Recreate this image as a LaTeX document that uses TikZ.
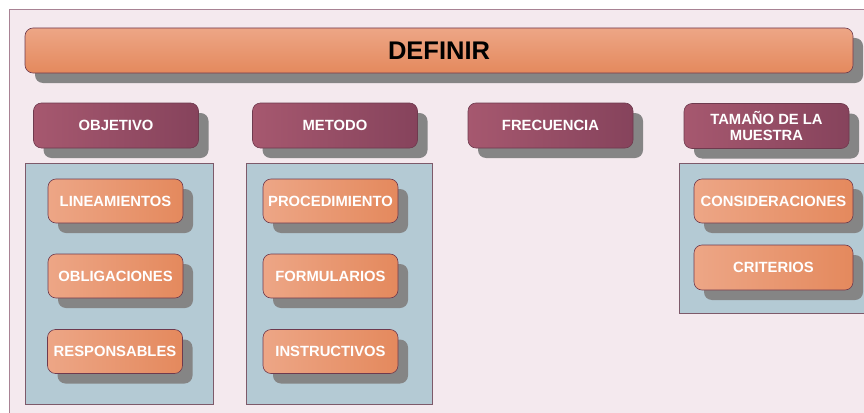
\documentclass[tikz,border=0pt]{standalone}
\usepackage{fontspec}
\setmainfont{Liberation Sans}
\usetikzlibrary{shadows}
\definecolor{bgpink}{HTML}{F4E9EE}
\definecolor{framec}{HTML}{A88294}
\definecolor{panelblue}{HTML}{B4CAD4}
\definecolor{panelline}{HTML}{7D5A6A}
\definecolor{orlight}{HTML}{EDA686}
\definecolor{ordark}{HTML}{E4895D}
\definecolor{purlight}{HTML}{A6586F}
\definecolor{purdark}{HTML}{86435C}
\definecolor{boxline}{HTML}{6E3A4E}
\definecolor{shadowc}{HTML}{858585}
\tikzset{
  shadowed/.style={drop shadow={shadow xshift=10pt, shadow yshift=-10pt, fill=shadowc, opacity=1}},
  titlebox/.style={shadowed, draw=boxline, line width=0.6pt, rounded corners=8pt,
    top color=orlight, bottom color=ordark, minimum width=828pt, minimum height=45pt,
    inner sep=2pt, font=\fontsize{25.5}{28}\selectfont\bfseries, text=black},
  headbox/.style={shadowed, draw=boxline, line width=0.6pt, rounded corners=8pt,
    left color=purlight, right color=purdark, minimum width=165pt, minimum height=45pt,
    inner sep=2pt, align=center, font=\fontsize{14.8}{16.5}\selectfont\bfseries, text=white},
  itembox/.style={shadowed, draw=boxline, line width=0.6pt, rounded corners=8pt,
    left color=orlight, right color=ordark, minimum width=135pt, minimum height=44pt,
    inner sep=2pt, align=center, font=\fontsize{14.8}{16}\selectfont\bfseries, text=white},
  panel/.style={draw=panelline, line width=0.6pt, fill=panelblue, inner sep=0pt}
}
\begin{document}
\begin{tikzpicture}[x=1pt, y=-1pt]
\useasboundingbox (0,0) rectangle (864,412);
\clip (0,0) rectangle (864,412);
\fill[white] (0,0) rectangle (864,412);
\draw[framec, fill=bgpink, line width=0.8pt] (9,9) rectangle (880,430);

% panels
\node[panel, minimum width=188pt, minimum height=241pt] (p1) at (119,283.5) {};
\node[panel, minimum width=186pt, minimum height=241pt] (p2) at (339,283.5) {};
\node[panel, minimum width=201pt, minimum height=150pt] (p3) at (779.5,238) {};

% title
\node[titlebox] (def) at (439,50.5) {DEFINIR};

% headers
\node[headbox] (obj) at (116,125.5) {OBJETIVO};
\node[headbox] (met) at (335,125.5) {METODO};
\node[headbox] (fre) at (550.5,125.5) {FRECUENCIA};
\node[headbox] (tam) at (766.5,126) {TAMAÑO DE LA\\MUESTRA};

% items
\node[itembox] (lin) at (115.5,201) {LINEAMIENTOS};
\node[itembox] (obl) at (115.5,276) {OBLIGACIONES};
\node[itembox] (res) at (115,351.5) {RESPONSABLES};
\node[itembox] (pro) at (330.5,201) {PROCEDIMIENTO};
\node[itembox] (for) at (330.5,276) {FORMULARIOS};
\node[itembox] (ins) at (330.5,351.5) {INSTRUCTIVOS};
\node[itembox, minimum width=159pt] (con) at (773.5,201) {CONSIDERACIONES};
\node[itembox, minimum width=159pt, minimum height=45pt] (cri) at (773.5,267.5) {CRITERIOS};
\end{tikzpicture}
\end{document}
